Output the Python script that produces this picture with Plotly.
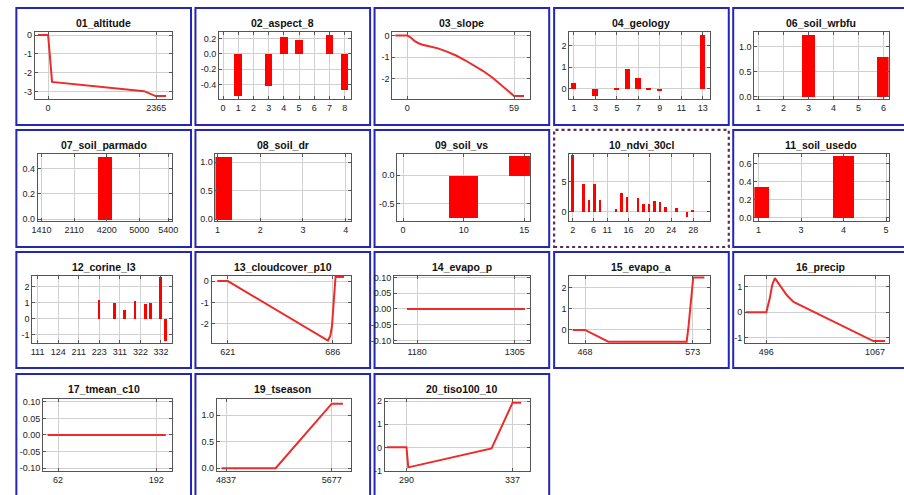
import plotly.graph_objects as go

W, H = 904, 495

# ---------------- data ----------------
altitude_x = [-224, 0, 86, 2099, 2352, 2581]
altitude_y = [0, 0, -2.48, -2.97, -3.23, -3.23]

aspect_x = [1, 3, 4, 5, 7, 8]
aspect_y = [-0.55, -0.42, 0.23, 0.19, 0.25, -0.47]

slope_x = [-6.5, 0, 2, 4, 6, 8, 12, 17, 22, 27, 32, 37, 42, 47, 52, 56, 59, 64.5]
slope_y = [0, 0, -0.1, -0.25, -0.35, -0.42, -0.5, -0.6, -0.75, -0.93, -1.15, -1.4, -1.65, -1.95, -2.3, -2.6, -2.8, -2.8]

geology_x = [1, 3, 5, 6, 7, 8, 9, 13]
geology_y = [0.28, -0.3, 0.03, 0.92, 0.52, 0.02, -0.05, 2.48]

wrbfu_x = [3, 6]
wrbfu_y = [1.25, 0.8]

parmado_x = [1.94]
parmado_y = [0.49]
parmado_ticks = ["1410", "2110", "4200", "5000", "5400"]

dr_x = [1]
dr_y = [1.105]

vs_x = [1, 2]
vs_y = [-0.747, 0.34]
vs_ticks = ["0", "10", "15"]

ndvi_x = [0, 2, 3, 4, 5, 8, 9, 10, 12, 13, 14, 15, 16, 17, 19, 21, 22]
ndvi_y = [9.4, 4.7, 2.0, 4.6, 2.1, 0.6, 3.2, 2.5, 2.4, 1.4, 1.3, 1.8, 1.7, 0.9, 0.7, -0.8, 0.4]
ndvi_ticks = ["2", "6", "11", "16", "20", "24", "28"]

usedo_x = [0, 2]
usedo_y = [0.348, 0.69]
usedo_ticks = ["1", "3", "4", "5"]

corine_x = [12, 15, 17, 19, 21, 22, 24, 25]
corine_y = [1.19, 0.98, 0.55, 1.13, 0.91, 0.98, 2.62, -1.36]
corine_ticks = ["111", "124", "211", "223", "311", "322", "332"]

cloud_x = [614.5, 621, 683, 684.5, 685.5, 686.3, 687, 687.7, 693]
cloud_y = [0, 0, -2.78, -2.55, -2.1, -1.2, -0.2, 0.19, 0.19]

evapop_x = [1167, 1318]
evapop_y = [0, 0]

evapoa_x = [456, 468, 490.7, 567.1, 569, 571, 572.5, 573.5, 584.4]
evapoa_y = [0, 0, -0.55, -0.55, 0.2, 1.3, 2.2, 2.47, 2.47]

precip_x = [389, 496, 514, 527, 541, 568, 604, 639, 1058, 1120]
precip_y = [0, 0, 0.53, 1.06, 1.33, 1.06, 0.66, 0.4, -1.13, -1.13]

tmean_x = [48, 204.5]
tmean_y = [0, 0]

tseason_x = [4801.5, 5231, 5677, 5766]
tseason_y = [0, 0, 1.22, 1.22]

tiso_x = [281.4, 290, 290.8, 327.7, 337, 340.8]
tiso_y = [0, 0, -0.87, -0.05, 1.94, 1.94]

# ---------------- panel specs ----------------
f2 = lambda v: [f"{t:.1f}" for t in v]
f3 = lambda v: [f"{t:.2f}" for t in v]
I = lambda v: [str(t) for t in v]

panels = [
    dict(t="01_altitude", k="line", x=altitude_x, y=altitude_y, xr=[-289, 2704], yr=[-3.38, 0.19],
         xt=[0, 2365], xl=["0", "2365"], yt=[0, -1, -2, -3], yl=["0", "-1", "-2", "-3"]),
    dict(t="02_aspect_8", k="bar", w=0.5, x=aspect_x, y=aspect_y, xr=[-0.26, 8.41], yr=[-0.59, 0.29],
         xt=list(range(9)), xl=I(range(9)), yt=[0.2, 0, -0.2, -0.4], yl=f2([0.2, 0, -0.2, -0.4])),
    dict(t="03_slope", k="line", x=slope_x, y=slope_y, xr=[-8.2, 67.8], yr=[-2.94, 0.18],
         xt=[0, 59], xl=["0", "59"], yt=[0, -1, -2], yl=["0", "-1", "-2"]),
    dict(t="04_geology", k="bar", w=0.5, x=geology_x, y=geology_y, xr=[0.58, 13.63], yr=[-0.47, 2.64],
         xt=[1, 3, 5, 7, 9, 11, 13], xl=I([1, 3, 5, 7, 9, 11, 13]), yt=[0, 1, 2], yl=["0", "1", "2"]),
    dict(t="06_soil_wrbfu", k="bar", w=0.52, x=wrbfu_x, y=wrbfu_y, xr=[0.84, 6.2], yr=[-0.05, 1.3],
         xt=[1, 2, 3, 4, 5, 6], xl=I([1, 2, 3, 4, 5, 6]), yt=[0, 0.5, 1.0], yl=f2([0, 0.5, 1.0])),
    dict(t="07_soil_parmado", k="bar", w=0.44, x=parmado_x, y=parmado_y, xr=[-0.114, 4.0], yr=[-0.013, 0.517],
         xt=[0, 1, 2, 3, 3.89], xl=parmado_ticks, yt=[0, 0.2, 0.4], yl=f2([0, 0.2, 0.4])),
    dict(t="08_soil_dr", k="bar", w=0.7, x=dr_x, y=dr_y, xr=[0.954, 4.12], yr=[-0.03, 1.154],
         xt=[1, 2, 3, 4], xl=I([1, 2, 3, 4]), yt=[0, 0.5, 1.0], yl=f2([0, 0.5, 1.0])),
    dict(t="09_soil_vs", k="bar", w=0.48, x=vs_x, y=vs_y, xr=[-0.094, 2.094], yr=[-0.805, 0.38],
         xt=[0, 1, 2], xl=vs_ticks, yt=[0, -0.5], yl=f2([0, -0.5])),
    dict(t="10_ndvi_30cl", k="bar", w=0.45, x=ndvi_x, y=ndvi_y, xr=[-0.62, 25.0], yr=[-1.48, 9.6],
         xt=[0, 3.8, 6.3, 10.2, 14, 18, 22], xl=ndvi_ticks, yt=[0, 5], yl=["0", "5"]),
    dict(t="11_soil_usedo", k="bar", w=0.5, x=usedo_x, y=usedo_y, xr=[-0.1, 3.06], yr=[-0.037, 0.71],
         xt=[0, 1, 2, 3], xl=usedo_ticks, yt=[0, 0.2, 0.4, 0.6], yl=f2([0, 0.2, 0.4, 0.6])),
    dict(t="12_corine_l3", k="bar", w=0.55, x=corine_x, y=corine_y, xr=[-1.02, 26.1], yr=[-1.53, 2.68],
         xt=[0, 4, 8, 12, 16, 20, 24], xl=corine_ticks, yt=[-1, 0, 1, 2], yl=["-1", "0", "1", "2"]),
    dict(t="13_cloudcover_p10", k="line", x=cloud_x, y=cloud_y, xr=[610.9, 697.2], yr=[-2.89, 0.26],
         xt=[621, 686], xl=["621", "686"], yt=[0, -1, -2], yl=["0", "-1", "-2"]),
    dict(t="14_evapo_p", k="line", x=evapop_x, y=evapop_y, xr=[1150.4, 1324.4], yr=[-0.108, 0.106],
         xt=[1180, 1305], xl=["1180", "1305"], yt=[0.1, 0.05, 0, -0.05, -0.1], yl=f3([0.1, 0.05, 0, -0.05, -0.1])),
    dict(t="15_evapo_a", k="line", x=evapoa_x, y=evapoa_y, xr=[452.8, 589.4], yr=[-0.61, 2.56],
         xt=[468, 573], xl=["468", "573"], yt=[0, 1, 2], yl=["0", "1", "2"]),
    dict(t="16_precip", k="line", x=precip_x, y=precip_y, xr=[384, 1138.2], yr=[-1.2, 1.43],
         xt=[496, 1067], xl=["496", "1067"], yt=[-1, 0, 1], yl=["-1", "0", "1"]),
    dict(t="17_tmean_c10", k="line", x=tmean_x, y=tmean_y, xr=[42, 212.4], yr=[-0.108, 0.107],
         xt=[62, 192], xl=["62", "192"], yt=[0.1, 0.05, 0, -0.05, -0.1], yl=f3([0.1, 0.05, 0, -0.05, -0.1])),
    dict(t="19_tseason", k="line", x=tseason_x, y=tseason_y, xr=[4763, 5829], yr=[-0.05, 1.30],
         xt=[4837, 5677], xl=["4837", "5677"], yt=[0, 0.5, 1.0], yl=f2([0, 0.5, 1.0])),
    dict(t="20_tiso100_10", k="line", x=tiso_x, y=tiso_y, xr=[280.4, 344.7], yr=[-1.02, 2.08],
         xt=[290, 337], xl=["290", "337"], yt=[-1, 0, 1, 2], yl=["-1", "0", "1", "2"]),
]

# layout geometry (pixels)
box_left = [10.5, 192, 373.5, 555.5, 737]
box_top = [5, 129, 253, 377]
box_h_row = [119, 119, 118, 130]
plot_off = [(24, 92.5), (24, 92.5), (24, 92.5), (26, 98.5)]
box_w = 177
plot_left = [29.3, 216, 391.5, 571, 758.4,
             32.3, 212.3, 396.6, 571, 758.4,
             26.7, 208.3, 393.2, 571, 748.9,
             37.5, 213.6, 383.9]

FONT = "Liberation Sans, Arial, Helvetica, sans-serif"
fig = go.Figure()
layout = dict(width=W, height=H, margin=dict(l=0, r=0, t=0, b=0),
              paper_bgcolor="white", plot_bgcolor="white", showlegend=False,
              font=dict(family=FONT, size=9, color="#222"),
              bargap=0, shapes=[], annotations=[])

for i, p in enumerate(panels):
    r, c = divmod(i, 5)
    n = i + 1
    bl, bt = box_left[c], box_top[r]
    x0, x1 = plot_left[i], bl + 157.5
    y0, y1 = bt + plot_off[r][0], bt + plot_off[r][1]
    xa, ya = f"x{n}" if n > 1 else "x", f"y{n}" if n > 1 else "y"
    if p["k"] == "line":
        fig.add_trace(go.Scatter(x=p["x"], y=p["y"], mode="lines", xaxis=xa, yaxis=ya,
                                 line=dict(color="#ee2b2b", width=2), cliponaxis=True))
    else:
        fig.add_trace(go.Bar(x=p["x"], y=p["y"], width=p["w"], xaxis=xa, yaxis=ya,
                             marker=dict(color="#ff0000", line=dict(width=0))))
    common = dict(showgrid=True, gridcolor="#d0d0d0", gridwidth=1, zeroline=False,
                  showline=True, linecolor="#555", linewidth=1, mirror="ticks",
                  ticks="inside", ticklen=3, tickcolor="#555",
                  tickfont=dict(family=FONT, size=9, color="#222"), fixedrange=True)
    layout["xaxis" + (str(n) if n > 1 else "")] = dict(
        domain=[x0 / W, x1 / W], anchor=ya, range=p["xr"], tickmode="array",
        tickvals=p["xt"], ticktext=p["xl"], **common)
    layout["yaxis" + (str(n) if n > 1 else "")] = dict(
        domain=[1 - y1 / H, 1 - y0 / H], anchor=xa, range=p["yr"], tickmode="array",
        tickvals=p["yt"], ticktext=p["yl"], **common)
    # panel border
    if p["t"] == "10_ndvi_30cl":
        border = dict(color="#5a2a5a", width=2.2, dash="dot")
    else:
        border = dict(color="#2626b4", width=2)
    layout["shapes"].append(dict(type="rect", xref="paper", yref="paper",
                                 x0=bl / W, x1=(bl + box_w) / W,
                                 y0=1 - (bt + box_h_row[r]) / H, y1=1 - bt / H,
                                 line=border, fillcolor="rgba(0,0,0,0)", layer="below"))
    layout["annotations"].append(dict(text="<b>" + p["t"] + "</b>", xref="paper", yref="paper",
                                      x=(bl + 88.5) / W, y=1 - (bt + 15.5) / H,
                                      xanchor="center", yanchor="middle", showarrow=False,
                                      font=dict(family=FONT, size=10.5, color="#111")))

fig.update_layout(**layout)
fig.write_html("out.html")
